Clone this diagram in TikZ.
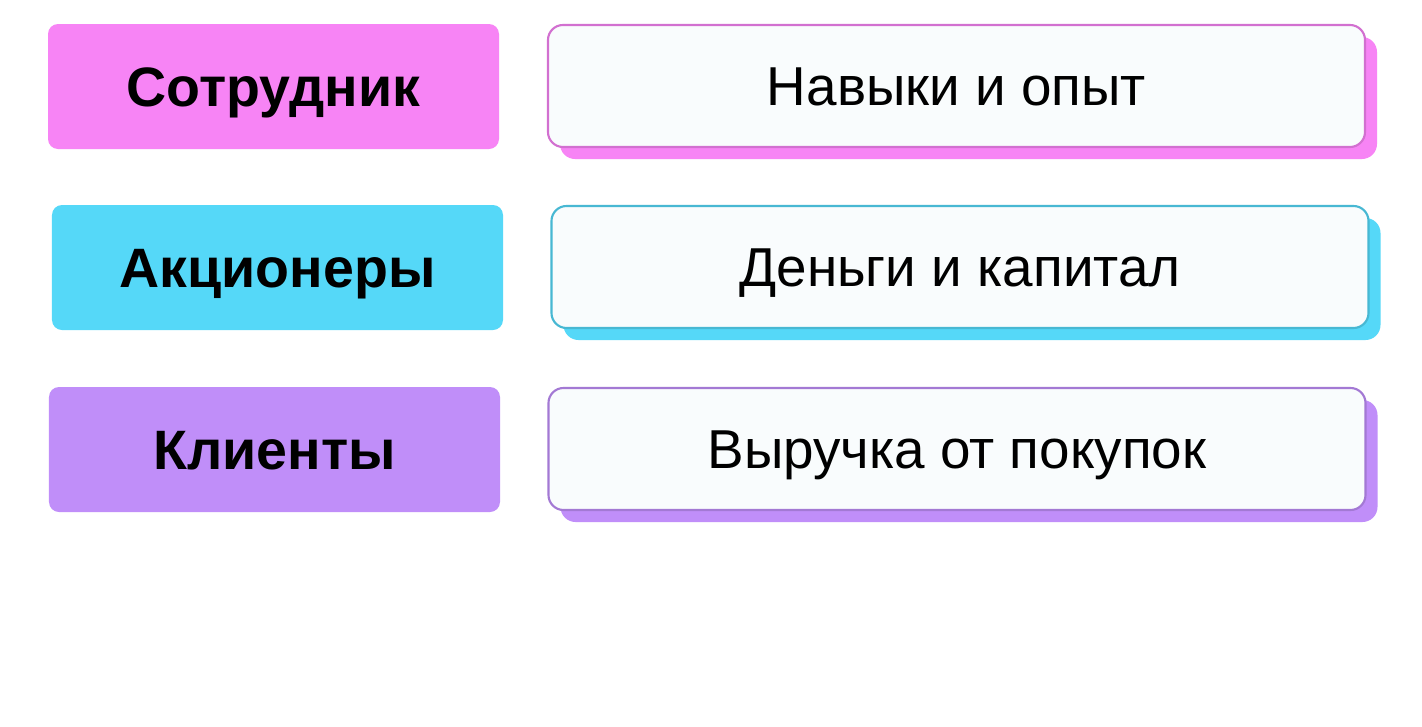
\documentclass[tikz,border=0pt]{standalone}
\usepackage{fontspec}
\setmainfont{Liberation Sans}
\usetikzlibrary{shadows}
\definecolor{rolePink}{HTML}{F784F5}
\definecolor{roleCyan}{HTML}{55D8F8}
\definecolor{rolePurple}{HTML}{C08EF9}
\definecolor{valueFill}{HTML}{F9FCFD}
\tikzset{
  rolebox/.style={fill=#1, rounded corners=0.1cm, minimum width=4.51cm, minimum height=1.25cm,
    text height=11.3pt, text depth=0pt, font=\fontsize{15.8}{19}\selectfont\bfseries},
  valuebox/.style={draw=#1!85!black, line width=0.6pt, fill=valueFill, rounded corners=0.15cm,
    minimum width=8.17cm, minimum height=1.22cm, text height=11.2pt, text depth=0pt,
    font=\fontsize{15.6}{19}\selectfont,
    general shadow={shadow xshift=0.12cm, shadow yshift=-0.12cm, fill=#1, draw=none}}
}

\begin{document}
\begin{tikzpicture}
  % Canvas
  \useasboundingbox[fill=white] (0,0) rectangle (14.22,-7.27);
  % Stakeholders and what they bring
  \foreach \i/\lx/\ly/\rx/\ry/\col/\role/\value in {
      1/2.735/-0.865/9.565/-0.86/rolePink/Сотрудник/Навыки и опыт,
      2/2.775/-2.675/9.600/-2.67/roleCyan/Акционеры/Деньги и капитал,
      3/2.745/-4.495/9.570/-4.49/rolePurple/Клиенты/Выручка от покупок} {
    \node[rolebox=\col] (role\i) at (\lx,\ly) {\role};
    \node[valuebox=\col] (value\i) at (\rx,\ry) {\value};
  }
\end{tikzpicture}
\end{document}
